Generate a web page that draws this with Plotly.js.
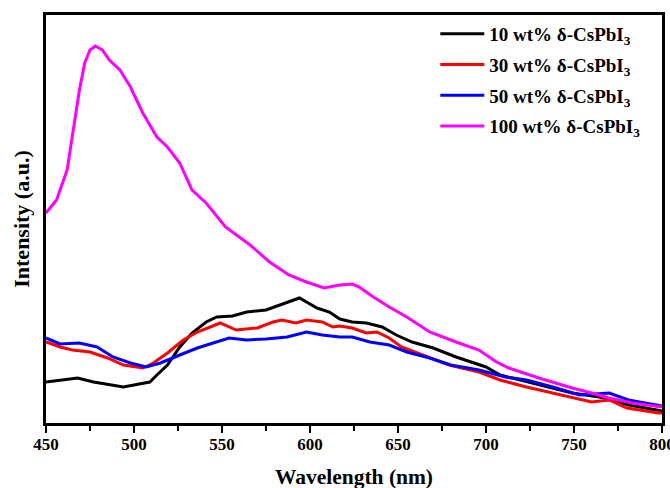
<!DOCTYPE html>
<html>
<head>
<meta charset="utf-8">
<script src="https://cdn.plot.ly/plotly-3.0.1.min.js"></script>
<style>html,body{margin:0;padding:0;background:#fff;}#chart{width:670px;height:488px;}</style>
</head>
<body>
<div id="chart"></div>
<script>
// 10 wt% δ-CsPbI3
const wl10 = [450,458,468,477,485,494,503,509,513,519,526,533,541,547,556,564,575,583,590,594,598,604,611,617,624,632,641,649,658,670,683,692,700,708,717,730,749,768,781,797,800];
const int10 = [41,43,45,41,39,36,39,41,48,58,76,90,101,106,107,111,113,118,122,125,121,115,111,104,101,100,96,88,81,75,66,61,56,48,44,38,30,25,18,13,12];
// 30 wt% δ-CsPbI3
const wl30 = [450,458,465,475,485,494,505,511,519,528,536,543,549,558,570,579,584,592,598,607,613,617,624,632,638,645,652,664,679,696,708,723,742,760,770,780,798,800];
const int30 = [81,76,73,71,65,58,55,60,70,83,91,96,100,93,95,101,103,100,103,101,96,97,95,90,91,85,76,68,58,51,43,36,28,21,23,15,10,10];
// 50 wt% δ-CsPbI3
const wl50 = [450,458,469,479,488,498,507,515,526,536,545,554,564,575,587,598,607,617,624,634,645,655,668,680,696,711,723,740,753,770,781,798,800];
const int50 = [85,79,80,76,66,60,56,60,68,75,80,85,83,84,86,91,88,86,86,81,78,71,65,58,53,46,43,35,28,30,23,17,17];
// 100 wt% δ-CsPbI3
const wl100 = [450,456,458,462,465.5,469,472,475,478,482,486,492,498,505,513,519,526,533,541,552,566,577,588,598,608,617,624,628,636,645,655,668,683,696,706,713,730,749,760,770,783,798,800];
const int100 = [210,223,233,253,293,333,360,373,377,373,363,353,336,310,286,276,260,233,220,196,178,161,148,141,135,138,139,136,126,116,106,91,81,73,61,55,45,35,30,25,20,16,16];

const names = ['10 wt% δ-CsPbI<sub>3</sub>','30 wt% δ-CsPbI<sub>3</sub>','50 wt% δ-CsPbI<sub>3</sub>','100 wt% δ-CsPbI<sub>3</sub>'];
const colors = ['#000000','#ff0000','#0000ff','#ff00ff'];
const xs = [wl10, wl30, wl50, wl100];
const ys = [int10, int30, int50, int100];

const traces = xs.map((x, i) => ({
  x: x, y: ys[i], type: 'scatter', mode: 'lines', name: names[i],
  legendgroup: 'g' + i,
  line: {color: colors[i], width: 3}
}));

const fontFam = '"Liberation Serif", "Times New Roman", serif';
const layout = {
  width: 670, height: 488,
  margin: {l: 46, r: 8, t: 15, b: 65},
  paper_bgcolor: '#fff', plot_bgcolor: '#fff',
  font: {family: fontFam, color: '#000', size: 16, weight: 'bold'},
  showlegend: true,
  legend: {x: 0.632, y: 1.0, xanchor: 'left', yanchor: 'top', bgcolor: 'rgba(0,0,0,0)',
           font: {family: fontFam, size: 19, color: '#000', weight: 'bold'}, tracegroupgap: 3, itemwidth: 44},
  xaxis: {
    range: [450, 800], showline: true, linewidth: 3, linecolor: '#000', mirror: true,
    ticks: 'outside', ticklen: 7, tickwidth: 2, tickcolor: '#000', dtick: 50, tick0: 450,
    ticklabeloverflow: 'allow', automargin: false,
    minor: {ticks: 'outside', ticklen: 5, tickwidth: 2, tickcolor: '#000', dtick: 25},
    showgrid: false, zeroline: false,
    tickfont: {family: fontFam, size: 16, color: '#000', weight: 'bold'},
    title: {text: 'Wavelength (nm)', font: {family: fontFam, size: 20, color: '#000', weight: 'bold'}}
  },
  yaxis: {
    range: [0, 408], showline: true, linewidth: 3, linecolor: '#000', mirror: true, automargin: false,
    ticks: '', showticklabels: false, showgrid: false, zeroline: false,
    title: {text: 'Intensity (a.u.)', font: {family: fontFam, size: 22, color: '#000', weight: 'bold'}}
  }
};

function stretchEl(t, target) {
  t.removeAttribute('textLength');
  t.removeAttribute('lengthAdjust');
  const w = t.getComputedTextLength();
  if (w > 0) {
    t.setAttribute('textLength', target.toFixed(1));
    t.setAttribute('lengthAdjust', 'spacingAndGlyphs');
  }
  return w;
}

function centerOf(el, base) {
  const r = el.getBoundingClientRect();
  return {x: r.left - base.left + r.width / 2, y: r.top - base.top + r.height / 2};
}

function fixText(gd) {
  const base = gd.getBoundingClientRect();
  // x title: widen and place its centre at y = 477
  const gx = gd.querySelector('.g-xtitle');
  const xt = gd.querySelector('.xtitle');
  if (gx && xt) {
    gx.removeAttribute('transform');
    stretchEl(xt, 158);
    const c = centerOf(xt, base);
    gx.setAttribute('transform', 'translate(0,' + (477 - c.y).toFixed(1) + ')');
  }
  // y title: centre at x = 21
  const gy = gd.querySelector('.g-ytitle');
  const yt = gd.querySelector('.ytitle');
  if (gy && yt) {
    gy.removeAttribute('transform');
    const c = centerOf(yt, base);
    gy.setAttribute('transform', 'translate(' + (21 - c.x).toFixed(1) + ',0)');
  }
  // x tick labels: centre at y = 445
  const ticks = gd.querySelectorAll('g.xtick');
  if (ticks.length) {
    ticks.forEach(g => g.removeAttribute('transform'));
    let dy = 0;
    ticks.forEach((g, i) => {
      const t = g.querySelector('text');
      if (!t) return;
      t.removeAttribute('textLength');
      const w = t.getComputedTextLength();
      stretchEl(t, w * 1.06);
      if (i === 0) dy = 445 - centerOf(t, base).y;
    });
    ticks.forEach(g => g.setAttribute('transform', 'translate(0,' + dy.toFixed(1) + ')'));
  }
}

Plotly.newPlot('chart', traces, layout, {displayModeBar: false, staticPlot: true}).then(gd => {
  fixText(gd);
  gd.on('plotly_afterplot', () => fixText(gd));
});
</script>
</body>
</html>
